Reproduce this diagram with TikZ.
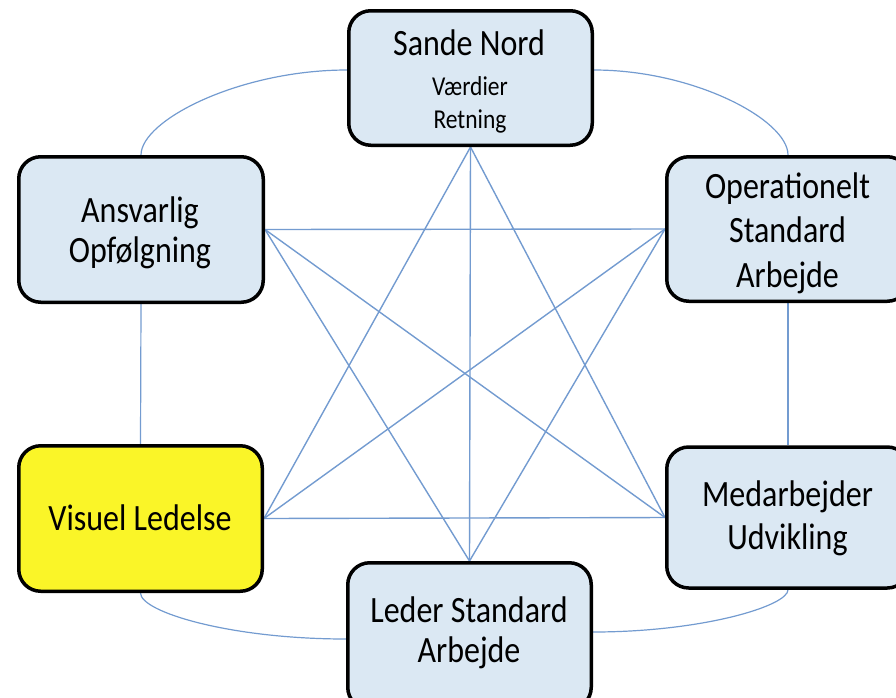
\documentclass[tikz,border=0pt]{standalone}
\usepackage{fontspec}
\setmainfont{Carlito}
\usepackage{graphicx}
\usetikzlibrary{backgrounds}
\definecolor{boxblue}{RGB}{219,232,243}
\definecolor{hlyellow}{RGB}{250,245,40}
\definecolor{linkblue}{RGB}{115,155,208}
\newcommand\vst[1]{\scalebox{1}[1.16]{#1}}
\begin{document}
\begin{tikzpicture}[x=1pt,y=-1pt,
  box/.style={draw=black, line width=3.5pt, rounded corners=22pt, fill=boxblue, inner sep=0pt},
  link/.style={draw=linkblue, line width=1.4pt},
  ring/.style={draw=linkblue, line width=1.2pt},
  lbl/.style={anchor=base, inner sep=0pt, text=black, font=\fontsize{32}{38}\selectfont},
  sublbl/.style={lbl, font=\fontsize{23.5}{28}\selectfont}]
\useasboundingbox (0,0) rectangle (896,697);

% boxes
\node[box, minimum width=243.5pt, minimum height=134.5pt] (sande)  at (470.5,78)  {};
\node[box, minimum width=244.5pt, minimum height=145.5pt] (ansv)   at (141,229.5) {};
\node[box, minimum width=242.5pt, minimum height=144.5pt] (oper)   at (788,229)   {};
\node[box, fill=hlyellow, minimum width=243.5pt, minimum height=145.5pt] (visuel) at (140.5,518.5) {};
\node[box, minimum width=242.5pt, minimum height=141pt]   (medarb) at (788,517.5) {};
\node[box, minimum width=243.5pt, minimum height=146.5pt] (leder)  at (469.5,636) {};

% texts
\node[lbl]    (t1a) at (469,55)  {\vst{Sande Nord}};
\node[sublbl] (t1b) at (470,95)  {\vst{Værdier}};
\node[sublbl] (t1c) at (470,128) {\vst{Retning}};
\node[lbl] (t2a) at (140,222) {\vst{Ansvarlig}};
\node[lbl] (t2b) at (140,262) {\vst{Opfølgning}};
\node[lbl] (t3a) at (787.5,198) {\vst{Operationelt}};
\node[lbl] (t3b) at (787.5,242) {\vst{Standard}};
\node[lbl] (t3c) at (787.5,287) {\vst{Arbejde}};
\node[lbl] (t4a) at (140,530) {\vst{Visuel Ledelse}};
\node[lbl] (t5a) at (787.5,506) {\vst{Medarbejder}};
\node[lbl] (t5b) at (787.5,549) {\vst{Udvikling}};
\node[lbl] (t6a) at (469,622) {\vst{Leder Standard}};
\node[lbl] (t6b) at (469,662) {\vst{Arbejde}};

\begin{scope}[on background layer]
% inner star
\draw[link] (sande.south) -- (visuel.east);
\draw[link] (sande.south) -- (medarb.west);
\draw[link] (sande.south) -- (leder.north);
\draw[link] (ansv.east) -- (oper.west);
\draw[link] (ansv.east) -- (medarb.west);
\draw[link] (ansv.east) -- (leder.north);
\draw[link] (oper.west) -- (visuel.east);
\draw[link] (oper.west) -- (leder.north);
\draw[link] (visuel.east) -- (medarb.west);
% outer ring
\draw[ring] ([yshift=8pt]sande.west) .. controls (240,70) and (141,120) .. (ansv.north);
\draw[ring] ([yshift=8pt]sande.east) .. controls (694,70) and (788,120) .. (oper.north);
\draw[ring] (ansv.south) -- (visuel.north);
\draw[ring] (oper.south) -- (medarb.north);
\draw[ring] (visuel.south) .. controls (140.5,612) and (230,639) .. ([yshift=-3pt]leder.west);
\draw[ring] ([yshift=4pt]leder.east) .. controls (702,632) and (788,606) .. (medarb.south);
\end{scope}
\end{tikzpicture}
\end{document}
